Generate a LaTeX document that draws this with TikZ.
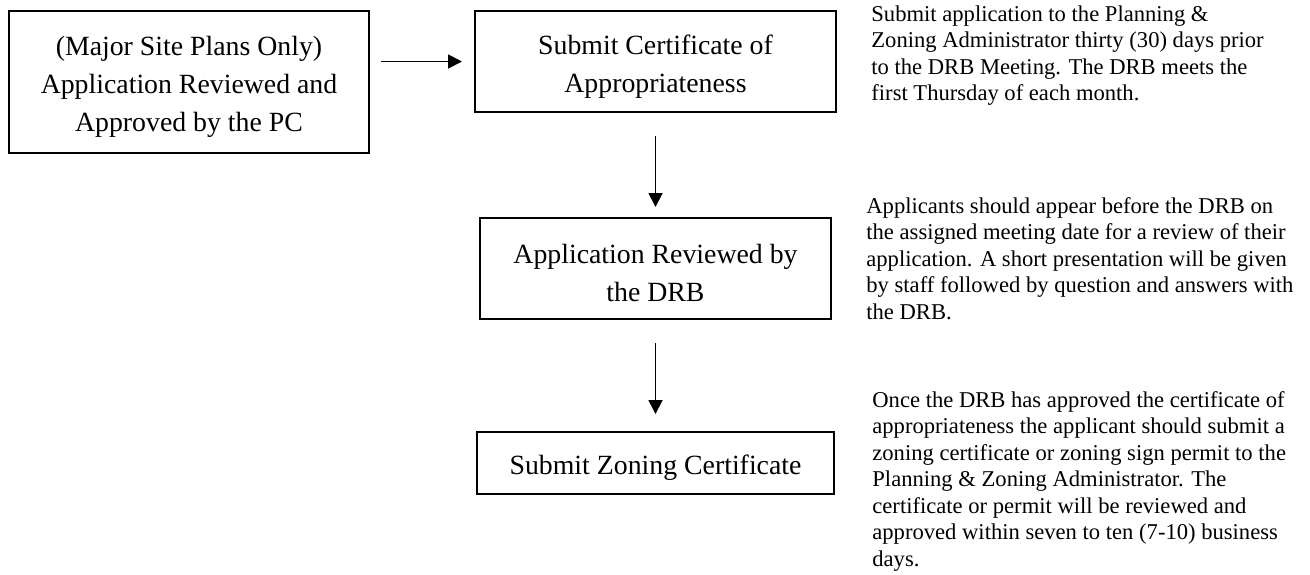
\documentclass[tikz,border=0pt]{standalone}
\usepackage{fontspec}
\setmainfont{Liberation Serif}
\usetikzlibrary{arrows.meta, positioning}
\newcommand{\topgap}{\rule{0pt}{14.5pt}}

\begin{document}
\begin{tikzpicture}[
  stepbox/.style={draw, line width=1pt, align=center, inner sep=0pt,
                  font=\fontsize{13.9}{19}\selectfont},
  note/.style={align=left, inner sep=0pt, font=\fontsize{11.3}{13.25}\selectfont},
  flow/.style={-{Triangle[length=7pt,width=7pt]}, line width=0.9pt},
]
  \useasboundingbox (0,0) rectangle (655pt,-287pt);

  \node[stepbox, minimum width=180pt, minimum height=71pt, anchor=north west] (pc) at (4pt,-5pt)
    {\topgap(Major Site Plans Only)\\Application Reviewed and\\Approved by the PC};
  \node[stepbox, minimum width=180.5pt, minimum height=50.5pt, right=52pt of pc.north east, anchor=north west] (coa)
    {\topgap Submit Certificate of\\Appropriateness};
  \node[stepbox, minimum width=175.5pt, minimum height=50.5pt, below=52pt of coa] (drb)
    {\topgap Application Reviewed by\\the DRB};
  \node[stepbox, minimum width=178.5pt, minimum height=31pt, below=55.5pt of drb] (zc)
    {\topgap Submit Zoning Certificate};

  \draw[flow, shorten <=5.5pt, shorten >=6pt] (pc.east |- coa.west) -- (coa.west);
  \draw[flow, shorten <=11.5pt, shorten >=5pt] (coa.south) -- (drb.north);
  \draw[flow, shorten <=11.5pt, shorten >=8.5pt] (drb.south) -- (zc.north);

  \node[note, right=17pt of coa.north east, anchor=north west, yshift=2.5pt] (coanote)
    {Submit application to the Planning \&\\Zoning Administrator thirty (30) days prior\\to the DRB Meeting. The DRB meets the\\first Thursday of each month.};
  \node[note, right=17pt of drb.north east, anchor=north west, yshift=10pt] (drbnote)
    {Applicants should appear before the DRB on\\the assigned meeting date for a review of their\\application. A short presentation will be given\\by staff followed by question and answers with\\the DRB.};
  \node[note, right=18.5pt of zc.north east, anchor=north west, yshift=20pt] (zcnote)
    {Once the DRB has approved the certificate of\\appropriateness the applicant should submit a\\zoning certificate or zoning sign permit to the\\Planning \& Zoning Administrator. The\\certificate or permit will be reviewed and\\approved within seven to ten (7-10) business\\days.};
\end{tikzpicture}
\end{document}
